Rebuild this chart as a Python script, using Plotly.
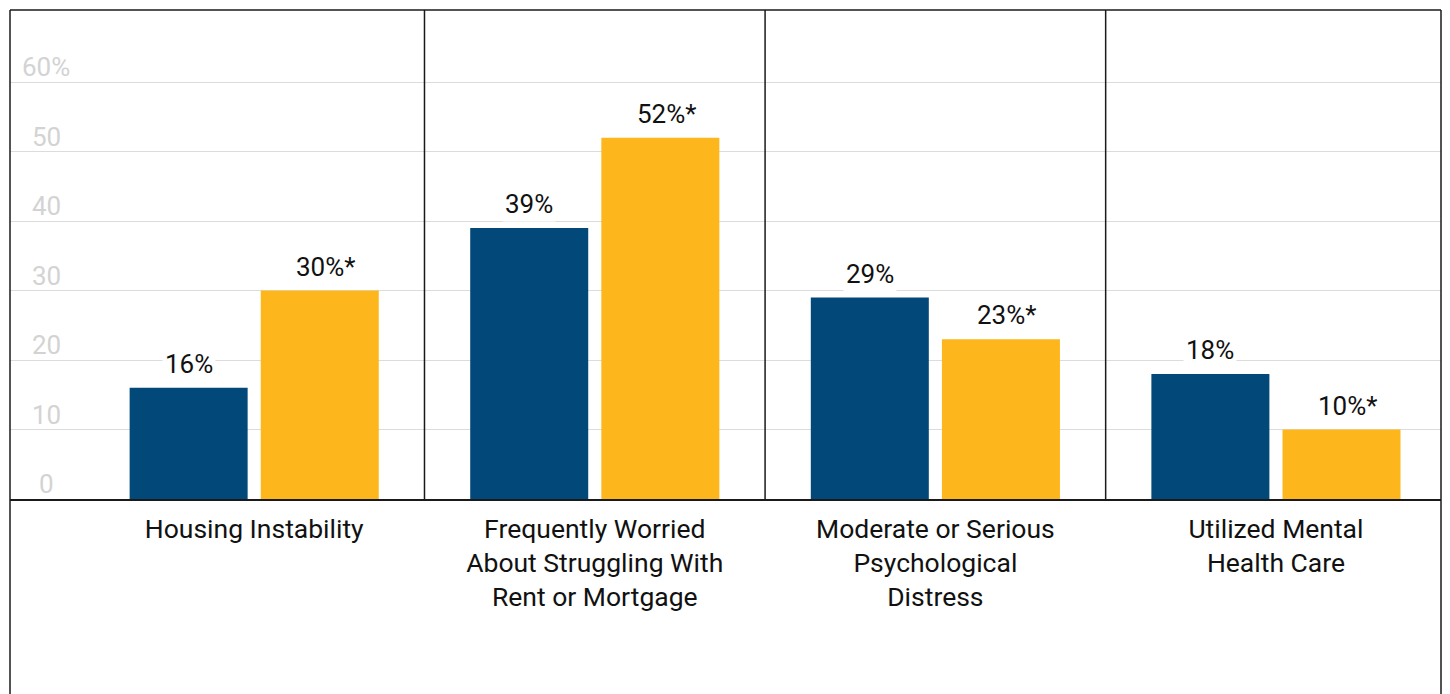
import plotly.graph_objects as go

categories = [
    "Housing Instability",
    "Frequently Worried<br>About Struggling With<br>Rent or Mortgage",
    "Moderate or Serious<br>Psychological<br>Distress",
    "Utilized Mental<br>Health Care",
]
series_a = [16, 39, 29, 18]
series_b = [30, 52, 23, 10]
sig_a = ["", "", "", ""]
sig_b = ["*", "*", "*", "*"]
ytick_vals = [0, 10, 20, 30, 40, 50, 60]
ytick_text = ["0", "10", "20", "30", "40", "50", "60%"]

BLUE = "#02497A"
GOLD = "#FDB71C"
FONT = "Roboto"

fig = go.Figure()
fig.add_trace(go.Bar(x=categories, y=series_a, marker=dict(color=BLUE, line=dict(width=0)),
                     hoverinfo="skip", showlegend=False))
fig.add_trace(go.Bar(x=categories, y=series_b, marker=dict(color=GOLD, line=dict(width=0)),
                     hoverinfo="skip", showlegend=False))

# data labels (value centred over bar, significance star hanging to the right)
for vals, sigs, shift in ((series_a, sig_a, -65.5), (series_b, sig_b, 65.5)):
    for c, v, s in zip(categories, vals, sigs):
        fig.add_annotation(x=c, y=v, xref="x", yref="y", text=f"{v}%{s}", showarrow=False,
                           xshift=shift + (6 if s else 0), yshift=6, yanchor="bottom",
                           bgcolor="white", borderpad=2,
                           font=dict(family=FONT, size=26, color="#111111"))

# y tick labels (placed above gridlines)
for v, t in zip(ytick_vals, ytick_text):
    fig.add_annotation(x=0.0252, y=v, xref="paper", yref="y", text=t, showarrow=False,
                       xanchor="center", yanchor="bottom", yshift=-2,
                       font=dict(family=FONT, size=26, color="#D3D3D3"))

# group separators
for k in range(len(categories) - 1):
    fig.add_shape(type="line", xref="x", yref="paper", x0=k + 0.5, x1=k + 0.5, y0=0, y1=1,
                  line=dict(color="#1a1a1a", width=1.5))

# outer frame
fig.add_shape(type="line", xref="paper", yref="paper", x0=0, x1=1, y0=1, y1=1,
              line=dict(color="#1a1a1a", width=1.5))
fig.add_shape(type="line", xref="paper", yref="paper", x0=0, x1=0, y0=-0.6, y1=1,
              line=dict(color="#1a1a1a", width=1.5))
fig.add_shape(type="line", xref="paper", yref="paper", x0=1, x1=1, y0=-0.6, y1=1,
              line=dict(color="#1a1a1a", width=1.5))

fig.update_layout(
    width=1436, height=686,
    margin=dict(l=2, r=3, t=2, b=195),
    paper_bgcolor="white", plot_bgcolor="white",
    barmode="group", bargap=0.23, bargroupgap=0.1,
    font=dict(family=FONT, color="#111111"),
    xaxis=dict(range=[-0.717, 3.4846], showgrid=False, zeroline=False,
               showline=True, linecolor="#1a1a1a", linewidth=1.5,
               ticks="outside", ticklen=5, tickcolor="rgba(0,0,0,0)",
               tickfont=dict(family=FONT, size=26.5, color="#111111")),
    yaxis=dict(range=[0, 70.4], tickvals=ytick_vals, showticklabels=False,
               showgrid=True, gridcolor="#DCDCDC", gridwidth=1, zeroline=False,
               showline=False),
)

fig.write_html("out.html")
